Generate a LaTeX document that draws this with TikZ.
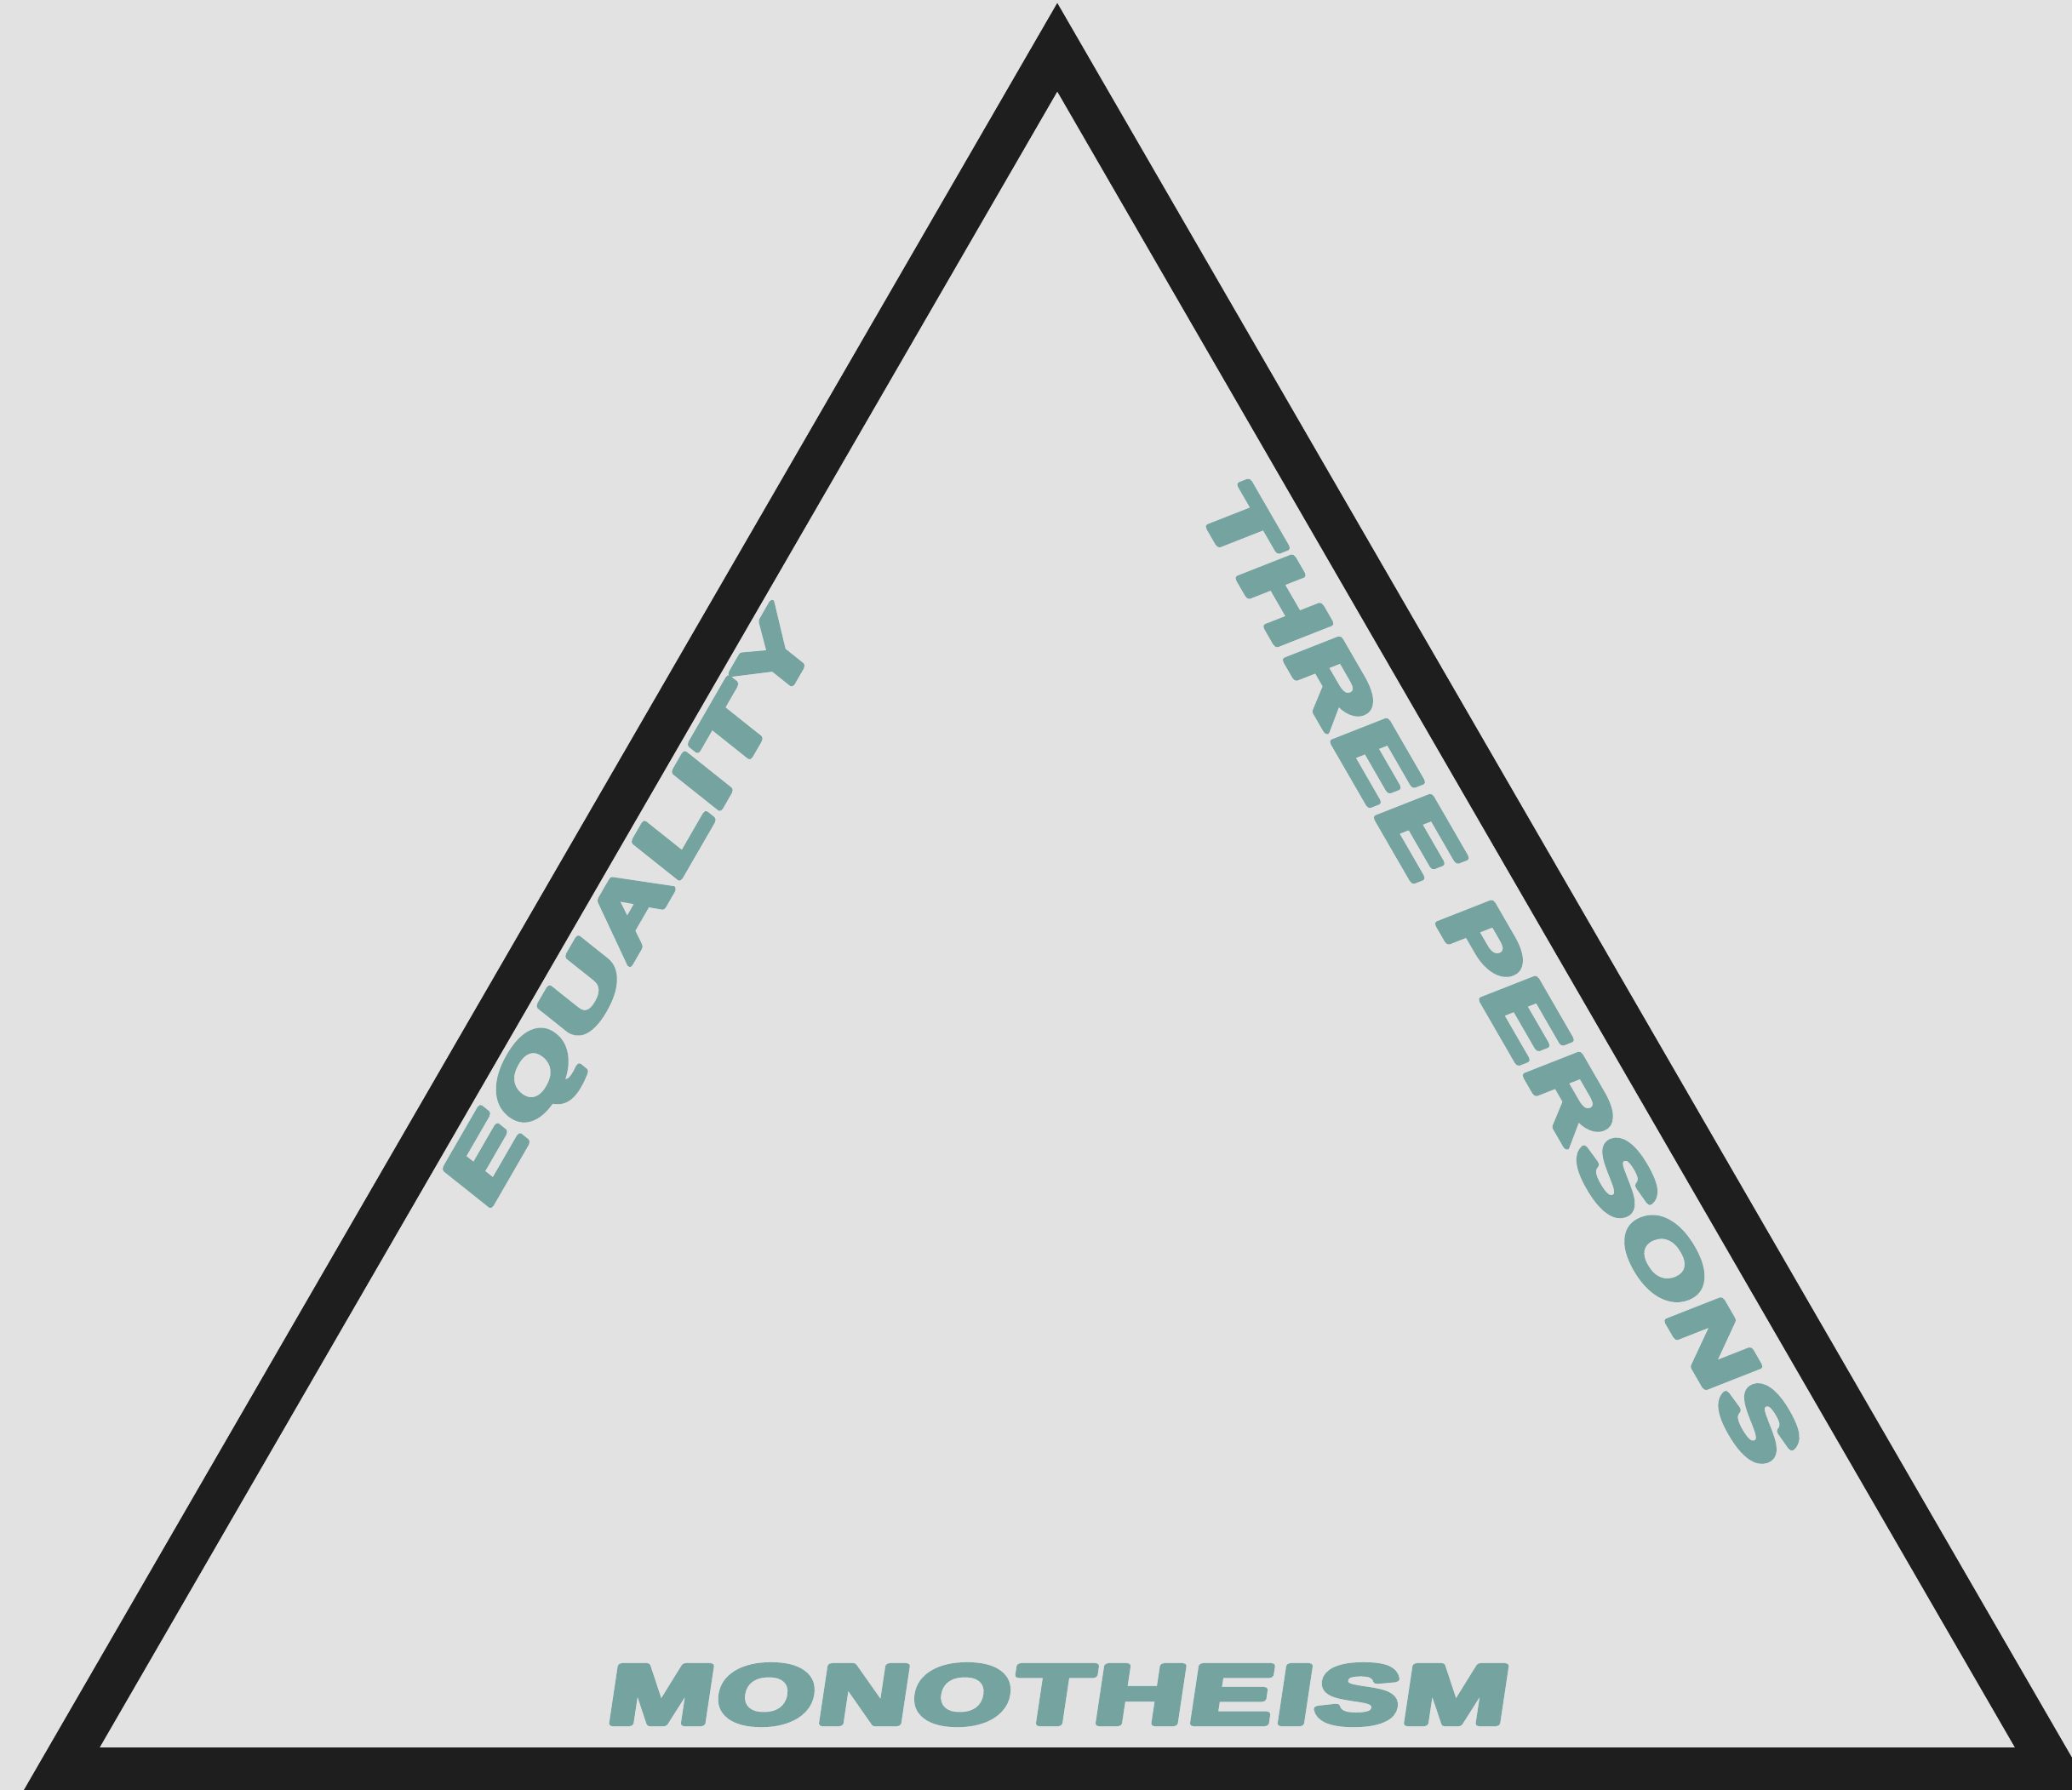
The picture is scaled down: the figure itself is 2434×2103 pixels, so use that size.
\documentclass[tikz,border=0pt]{standalone}
\usepackage{fontspec}
\newfontfamily\widefont{Liberation Sans}[LetterSpace=3, BoldFeatures={FakeBold=6.5}]
\newcommand\roundjoins{\special{pdf:literal direct 1 j}}
\definecolor{bgc}{RGB}{226,226,226}
\definecolor{linec}{RGB}{30,30,30}
\definecolor{textc}{RGB}{116,163,160}
\begin{document}
\begin{tikzpicture}[x=0.1mm,y=-0.1mm,
  wordlabel/.style={text=textc, inner sep=0pt, font=\widefont\bfseries\fontsize{28}{34}\selectfont},
  widen/.style={xslant=0.15, xscale=1.50},
  trianglestroke/.style={draw=linec, line width=5.2mm, line join=miter}]
\useasboundingbox (0,0) rectangle (2434,2103);
\clip (0,0) rectangle (2434,2103);
\fill[bgc] (0,0) rectangle (2434,2103);
\coordinate (top) at (1242,55.5);
\coordinate (bl) at (72,2079);
\coordinate (br) at (2412,2079);
\draw[trianglestroke] (top) -- (br) -- (bl) -- cycle;
\node[wordlabel, widen] (mono) at (1244,1991) {\roundjoins MONOTHEISM};
\node[wordlabel, rotate=60, widen] (eq) at (747,1071) {\roundjoins EQUALITY};
\node[wordlabel, rotate=-60, widen] (three) at (1763,1146) {\roundjoins THREE PERSONS};
\end{tikzpicture}
\end{document}
